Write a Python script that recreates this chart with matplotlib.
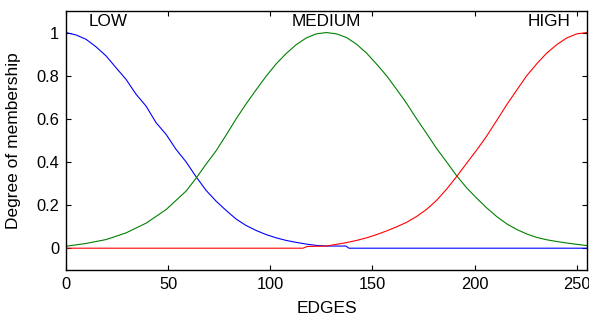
import matplotlib
matplotlib.use("Agg")
import matplotlib.pyplot as plt

plt.rcParams['font.family'] = ['Liberation Sans', 'DejaVu Sans']

# LOW membership (blue)
low_x = [0, 4.9, 9.8, 14.7, 19.6, 24.5, 29.4, 34.3, 39.2, 44.1, 49, 53.9, 58.8, 63.7,
         68.6, 73.5, 78.4, 83.3, 88.2, 93.1, 98, 102.9, 107.8, 112.7, 117.6, 122.5, 127.4,
         137, 138.5, 255]
low_y = [1.0, 0.989, 0.969, 0.934, 0.892, 0.837, 0.783, 0.714, 0.659, 0.582, 0.528, 0.458, 0.400, 0.331,
         0.268, 0.218, 0.175, 0.135, 0.105, 0.082, 0.063, 0.048, 0.036, 0.027, 0.019, 0.013, 0.010,
         0.010, 0.0, 0.0]

# MEDIUM membership (green)
med_x = [0, 9.8, 19.6, 29.4, 39.2, 49, 58.8, 63.7, 68.6, 73.5, 78.4, 83.3, 88.2, 93.1, 98,
         102.9, 107.8, 112.7, 117.6, 122.5, 127.5, 132.4, 137.3, 142.2, 147.1, 152, 156.9,
         161.8, 166.7, 171.6, 176.5, 181.4, 186.3, 191.2, 196.1, 201, 205.9, 210.8, 215.7,
         220.6, 225.5, 230.4, 235.3, 240.2, 245.1, 250, 255]
med_y = [0.009, 0.022, 0.040, 0.071, 0.116, 0.179, 0.265, 0.325, 0.390, 0.452, 0.525, 0.600, 0.670, 0.735, 0.798,
         0.855, 0.903, 0.944, 0.975, 0.994, 1.0, 0.994, 0.977, 0.946, 0.905, 0.854, 0.800,
         0.737, 0.672, 0.600, 0.532, 0.462, 0.400, 0.336, 0.280, 0.232, 0.187, 0.147, 0.113,
         0.087, 0.066, 0.050, 0.039, 0.031, 0.024, 0.018, 0.012]

# HIGH membership (red)
high_x = [0, 116, 118, 127.5, 132.4, 137.3, 142.2, 147.1, 152, 156.9, 161.8, 166.7, 171.6, 176.5,
          181.4, 186.3, 191.2, 196.1, 201, 205.9, 210.8, 215.7, 220.6, 225.5, 230.4, 235.3,
          240.2, 245.1, 250, 255]
high_y = [0.0, 0.0, 0.008, 0.010, 0.018, 0.026, 0.036, 0.048, 0.063, 0.080, 0.099, 0.120, 0.147, 0.180,
          0.222, 0.274, 0.332, 0.394, 0.455, 0.520, 0.592, 0.665, 0.733, 0.800, 0.855, 0.905,
          0.944, 0.975, 0.994, 1.0]

labels = ["LOW", "MEDIUM", "HIGH"]
label_x = [20.4, 127.5, 236.3]
label_y = [1.05, 1.05, 1.05]

fig = plt.figure(figsize=(5.89, 3.20), dpi=100)
ax = fig.add_axes([0.112, 0.157, 0.8846, 0.8086])

ax.plot(low_x, low_y, color=(0, 0, 1), lw=0.8)
ax.plot(med_x, med_y, color=(0, 0.5, 0), lw=0.8)
ax.plot(high_x, high_y, color=(1, 0, 0), lw=0.8)

for t, x, y in zip(labels, label_x, label_y):
    ax.text(x, y, t, ha='center', va='center', fontsize=12.3)

ax.set_xlim(0, 255)
ax.set_ylim(-0.1, 1.1)
ax.set_xticks([0, 50, 100, 150, 200, 250])
ax.set_yticks([0, 0.2, 0.4, 0.6, 0.8, 1])
ax.set_yticklabels(['0', '0.2', '0.4', '0.6', '0.8', '1'])
ax.tick_params(direction='in', length=3.5, width=0.8, top=True, right=True,
               labelsize=11.8, pad=5)
for s in ax.spines.values():
    s.set_linewidth(1.0)
ax.set_xlabel('EDGES', fontsize=12.5, labelpad=3)
ax.set_ylabel('Degree of membership', fontsize=12.5, labelpad=4)
ax.xaxis.set_label_coords(0.5, -0.122)
ax.yaxis.set_label_coords(-0.087, 0.5)

fig.savefig('out.png', dpi=100)
